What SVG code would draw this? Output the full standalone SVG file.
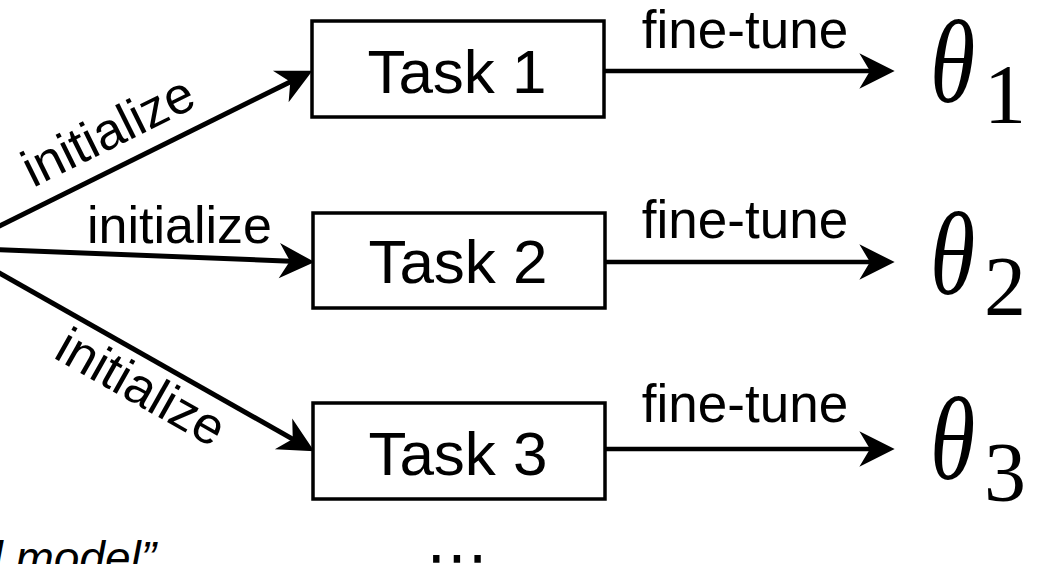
<svg xmlns="http://www.w3.org/2000/svg" width="1038" height="564" viewBox="0 0 1038 564">
<style>
.box{fill:#fff;stroke:#000;stroke-width:3.5}
.task{font-family:"Liberation Sans",Arial,sans-serif;font-size:62px;fill:#000;text-anchor:middle}
.lbl{font-family:"Liberation Sans",Arial,sans-serif;font-size:52px;fill:#000}
.ft{font-family:"Liberation Sans",Arial,sans-serif;font-size:53px;fill:#000;text-anchor:middle}
.th{font-family:"Liberation Serif","Times New Roman",serif;font-style:italic;font-size:118px;fill:#000}
.sub{font-family:"Liberation Serif","Times New Roman",serif;font-size:84px;fill:#000}
.edge{stroke:#000;stroke-width:5;fill:none;marker-end:url(#ah)}
.edge2{stroke:#000;stroke-width:4.5;fill:none;marker-end:url(#ah)}
</style>
<defs>
<marker id="ah" markerUnits="userSpaceOnUse" markerWidth="40" markerHeight="40" viewBox="-32 -17 34 34" refX="-15" refY="0" orient="auto">
<path d="M0,0 L-30,-15 L-21,0 L-30,15 Z" fill="#000"/>
</marker>
</defs>
<rect width="1038" height="564" fill="#fff"/>
<g id="connectors">
<line class="edge" x1="-45" y1="248" x2="296.6" y2="78.7"/>
<line class="edge" x1="-45" y1="248" x2="297" y2="261.4"/>
<line class="edge" x1="-45" y1="248" x2="298.9" y2="442.6"/>
<line class="edge2" x1="604" y1="71" x2="877" y2="71"/>
<line class="edge2" x1="605" y1="262" x2="877" y2="262"/>
<line class="edge2" x1="605" y1="449" x2="877" y2="449"/>
<text class="lbl" transform="translate(33,188) rotate(-26.4)">initialize</text>
<text class="lbl" x="87" y="243">initialize</text>
<text class="lbl" transform="translate(52,357) rotate(29.5)">initialize</text>
<text class="ft" x="745" y="48">fine-tune</text>
<text class="ft" x="745" y="238">fine-tune</text>
<text class="ft" x="745" y="422">fine-tune</text>
</g>
<g id="task1">
<rect class="box" x="312" y="21" width="292" height="96"/>
<text class="task" x="457" y="93">Task 1</text>
</g>
<g id="task2">
<rect class="box" x="313" y="213" width="292" height="95"/>
<text class="task" x="458" y="283">Task 2</text>
</g>
<g id="task3">
<rect class="box" x="313" y="403" width="292" height="96"/>
<text class="task" x="458" y="475">Task 3</text>
</g>
<g id="theta1">
<text class="th" transform="translate(930,102) scale(0.78,1)">θ</text>
<text class="sub" x="984" y="123">1</text>
</g>
<g id="theta2">
<text class="th" transform="translate(930,294) scale(0.78,1)">θ</text>
<text class="sub" x="984" y="315">2</text>
</g>
<g id="theta3">
<text class="th" transform="translate(930,479) scale(0.78,1)">θ</text>
<text class="sub" x="984" y="501">3</text>
</g>
<g id="model-label">
<text x="156" y="574" font-family="'Liberation Sans',Arial,sans-serif" font-style="italic" font-size="46" text-anchor="end">l model”</text>
</g>
<g id="ellipsis">
<text x="457" y="578" font-family="'DejaVu Sans',sans-serif" font-size="62" text-anchor="middle">⋯</text>
</g>
</svg>
